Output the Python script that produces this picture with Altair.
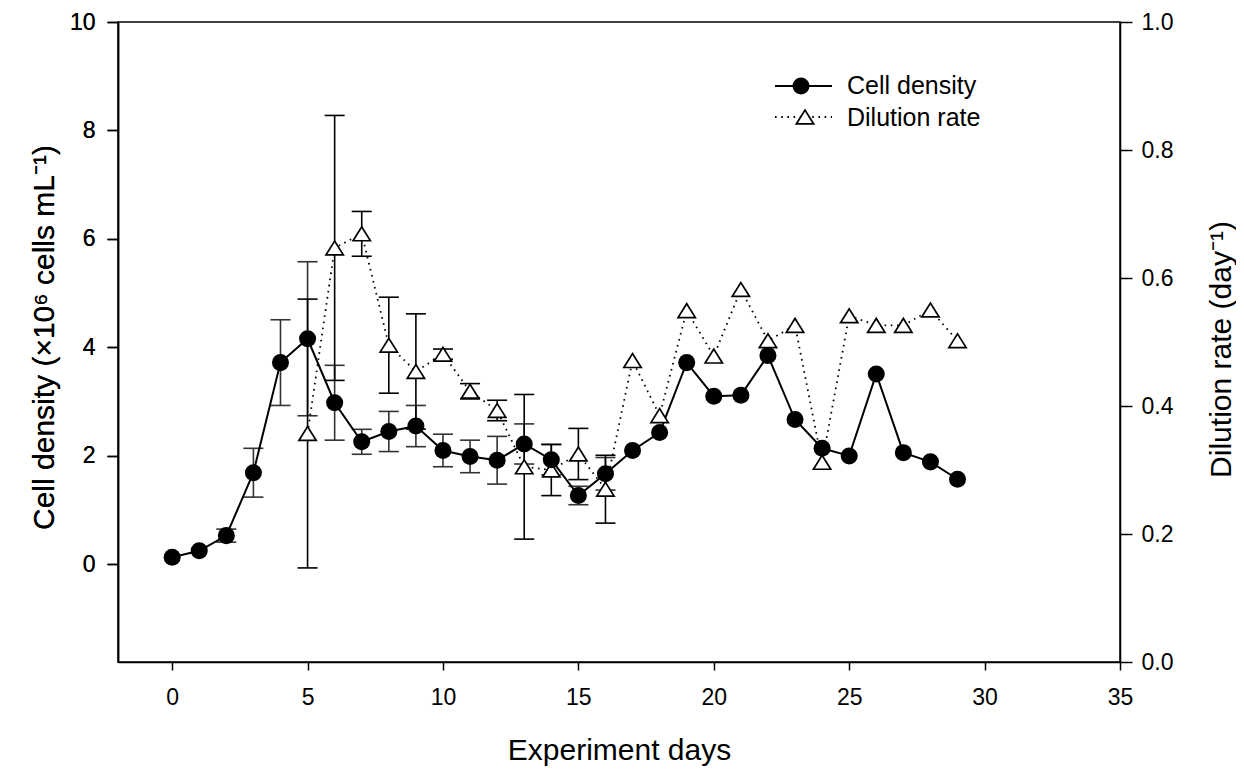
import altair as alt
import pandas as pd

# ---------------- data ----------------
days = list(range(30))
cell_density = [0.13, 0.25, 0.53, 1.69, 3.72, 4.16, 2.98, 2.26, 2.45, 2.55,
                2.10, 1.99, 1.92, 2.22, 1.93, 1.27, 1.67, 2.10, 2.43, 3.72,
                3.10, 3.12, 3.85, 2.67, 2.14, 2.00, 3.51, 2.06, 1.89, 1.57]
cell_err_days = list(range(2, 17))
cell_err = [0.12, 0.45, 0.79, 1.42, 0.69, 0.23, 0.37, 0.38, 0.30, 0.30,
            0.44, 0.37, 0.28, 0.17, 0.30]

dil_days = list(range(5, 30))
dilution = [0.357, 0.647, 0.669, 0.495, 0.454, 0.481, 0.423, 0.393, 0.305,
            0.300, 0.325, 0.270, 0.471, 0.385, 0.549, 0.478, 0.582, 0.502,
            0.526, 0.312, 0.541, 0.526, 0.526, 0.550, 0.502]
dil_err_days = list(range(5, 17))
dil_err = [0.21, 0.207, 0.035, 0.075, 0.09, 0.008, 0.012, 0.016, 0.113,
           0.04, 0.04, 0.053]

x_ticks = [0, 5, 10, 15, 20, 25, 30, 35]
left_ticks = [0, 2, 4, 6, 8, 10]
right_ticks = [0.0, 0.2, 0.4, 0.6, 0.8, 1.0]

# ---------------- tables ----------------
CAP = 0.37
cell_df = pd.DataFrame({"day": days, "cd": cell_density})
cd_map = dict(zip(days, cell_density))
cerr_df = pd.DataFrame({"day": cell_err_days, "err": cell_err})
cerr_df["lo"] = [cd_map[d] - e for d, e in zip(cell_err_days, cell_err)]
cerr_df["hi"] = [cd_map[d] + e for d, e in zip(cell_err_days, cell_err)]
cerr_df["x0"] = cerr_df["day"] - CAP
cerr_df["x1"] = cerr_df["day"] + CAP

dil_df = pd.DataFrame({"day": dil_days, "dr": dilution})
dr_map = dict(zip(dil_days, dilution))
derr_df = pd.DataFrame({"day": dil_err_days, "err": dil_err})
derr_df["lo"] = [dr_map[d] - e for d, e in zip(dil_err_days, dil_err)]
derr_df["hi"] = [dr_map[d] + e for d, e in zip(dil_err_days, dil_err)]
derr_df["x0"] = derr_df["day"] - CAP
derr_df["x1"] = derr_df["day"] + CAP

W, H = 1002, 640
FONT = "Liberation Sans"
LBL = 23
TTL = 30

xscale = alt.Scale(domain=[-2, 35], nice=False, zero=False)
xaxis = alt.Axis(values=x_ticks, title="Experiment days", tickSize=8,
                 labelPadding=16, labelFontSize=LBL, titleFontSize=TTL,
                 labelFlush=False,
                 titleFontWeight="normal", titleX=W / 2, titleY=97,
                 titleBaseline="alphabetic", titleAlign="center")

yl_scale = alt.Scale(domain=[-1.8, 10], nice=False, zero=False)
yl_axis = alt.Axis(values=left_ticks, title="Cell density (×10⁶ cells mL⁻¹)",
                   tickSize=11, labelPadding=12, labelFontSize=LBL,
                   labelFlush=False,
                   titleFontSize=TTL, titleFontWeight="normal",
                   titleAngle=-90, titleX=-74, titleY=315,
                   titleBaseline="middle", titleAlign="center")

yr_scale = alt.Scale(domain=[0, 1], nice=False, zero=False)
yr_axis = alt.Axis(orient="right", values=right_ticks, format=".1f",
                   title="Dilution rate (day⁻¹)", tickSize=12,
                   labelPadding=9, labelFontSize=LBL, titleFontSize=TTL,
                   labelFlush=False,
                   titleFontWeight="normal", titleAngle=-90, titleX=101,
                   titleY=327, titleBaseline="middle",
                   titleAlign="center")

X = alt.X("day:Q", scale=xscale, axis=xaxis)

# ---------------- cell density (left axis) ----------------
c_bar = alt.Chart(cerr_df).mark_rule(color="#333", strokeWidth=1.6).encode(
    x=X, y=alt.Y("lo:Q", scale=yl_scale, axis=yl_axis), y2="hi:Q")
c_cap_hi = alt.Chart(cerr_df).mark_rule(color="#333", strokeWidth=1.6).encode(
    x=alt.X("x0:Q", scale=xscale, axis=xaxis), x2="x1:Q",
    y=alt.Y("hi:Q", scale=yl_scale, axis=yl_axis))
c_cap_lo = alt.Chart(cerr_df).mark_rule(color="#333", strokeWidth=1.6).encode(
    x=alt.X("x0:Q", scale=xscale, axis=xaxis), x2="x1:Q",
    y=alt.Y("lo:Q", scale=yl_scale, axis=yl_axis))
c_line = alt.Chart(cell_df).mark_line(color="black", strokeWidth=2).encode(
    x=X, y=alt.Y("cd:Q", scale=yl_scale, axis=yl_axis))
c_pts = alt.Chart(cell_df).mark_point(shape="circle", filled=True,
                                      color="black", size=290,
                                      opacity=1).encode(
    x=X, y=alt.Y("cd:Q", scale=yl_scale, axis=yl_axis))

# ---------------- dilution rate (right axis) ----------------
d_bar = alt.Chart(derr_df).mark_rule(color="black", strokeWidth=1.6).encode(
    x=X, y=alt.Y("lo:Q", scale=yr_scale, axis=yr_axis), y2="hi:Q")
d_cap_hi = alt.Chart(derr_df).mark_rule(color="black", strokeWidth=1.6).encode(
    x=alt.X("x0:Q", scale=xscale, axis=xaxis), x2="x1:Q",
    y=alt.Y("hi:Q", scale=yr_scale, axis=yr_axis))
d_cap_lo = alt.Chart(derr_df).mark_rule(color="black", strokeWidth=1.6).encode(
    x=alt.X("x0:Q", scale=xscale, axis=xaxis), x2="x1:Q",
    y=alt.Y("lo:Q", scale=yr_scale, axis=yr_axis))
d_line = alt.Chart(dil_df).mark_line(color="black", strokeWidth=1.8,
                                     strokeDash=[1.6, 4.6]).encode(
    x=X, y=alt.Y("dr:Q", scale=yr_scale, axis=yr_axis))
TRI = "M-1,0.8L1,0.8L0,-0.8Z"
d_pts = alt.Chart(dil_df).mark_point(shape=TRI, filled=True, fill="white",
                                     stroke="black", strokeWidth=1.7,
                                     size=300, opacity=1).encode(
    x=X, y=alt.Y("dr:Q", scale=yr_scale, axis=yr_axis))

left = alt.layer(c_bar, c_cap_hi, c_cap_lo, c_line)
right = alt.layer(d_bar, d_cap_hi, d_cap_lo, d_line, d_pts)
dots = alt.layer(c_pts)

# ---------------- legend (drawn manually) ----------------
one = pd.DataFrame({"k": [0]})
lg = [
    alt.Chart(one).mark_rule(color="black", strokeWidth=2).encode(
        x=alt.value(657), x2=alt.value(714), y=alt.value(64)),
    alt.Chart(one).mark_point(shape="circle", filled=True, color="black",
                              size=290, opacity=1).encode(
        x=alt.value(683), y=alt.value(64)),
    alt.Chart(one).mark_text(align="left", baseline="middle", fontSize=25,
                             font=FONT, color="black").encode(
        x=alt.value(729), y=alt.value(64), text=alt.value("Cell density")),
    alt.Chart(one).mark_rule(color="black", strokeWidth=1.8,
                             strokeDash=[1.6, 4.6]).encode(
        x=alt.value(657), x2=alt.value(714), y=alt.value(95)),
    alt.Chart(one).mark_point(shape=TRI, filled=True, fill="white",
                              stroke="black", strokeWidth=1.7, size=300,
                              opacity=1).encode(
        x=alt.value(687), y=alt.value(95)),
    alt.Chart(one).mark_text(align="left", baseline="middle", fontSize=25,
                             font=FONT, color="black").encode(
        x=alt.value(729), y=alt.value(96), text=alt.value("Dilution rate")),
]
legend = alt.layer(*lg)

chart = (
    alt.layer(left, right, dots, legend)
    .resolve_scale(y="independent")
    .properties(width=W, height=H,
                padding={"left": 110, "top": 14, "right": 116, "bottom": 106},
                autosize=alt.AutoSizeParams(type="none"))
    .configure_view(stroke="black", strokeWidth=1.5)
    .configure_axis(grid=False, domainColor="black", domainWidth=1.5,
                    tickColor="black", tickWidth=1.5, labelColor="black",
                    titleColor="black", labelFont=FONT, titleFont=FONT,
                    labelFontSize=LBL, titleFontSize=TTL, labelFlush=False)
    .configure_text(font=FONT)
)

chart.save("out.html", embed_options={"renderer": "svg", "actions": False})
